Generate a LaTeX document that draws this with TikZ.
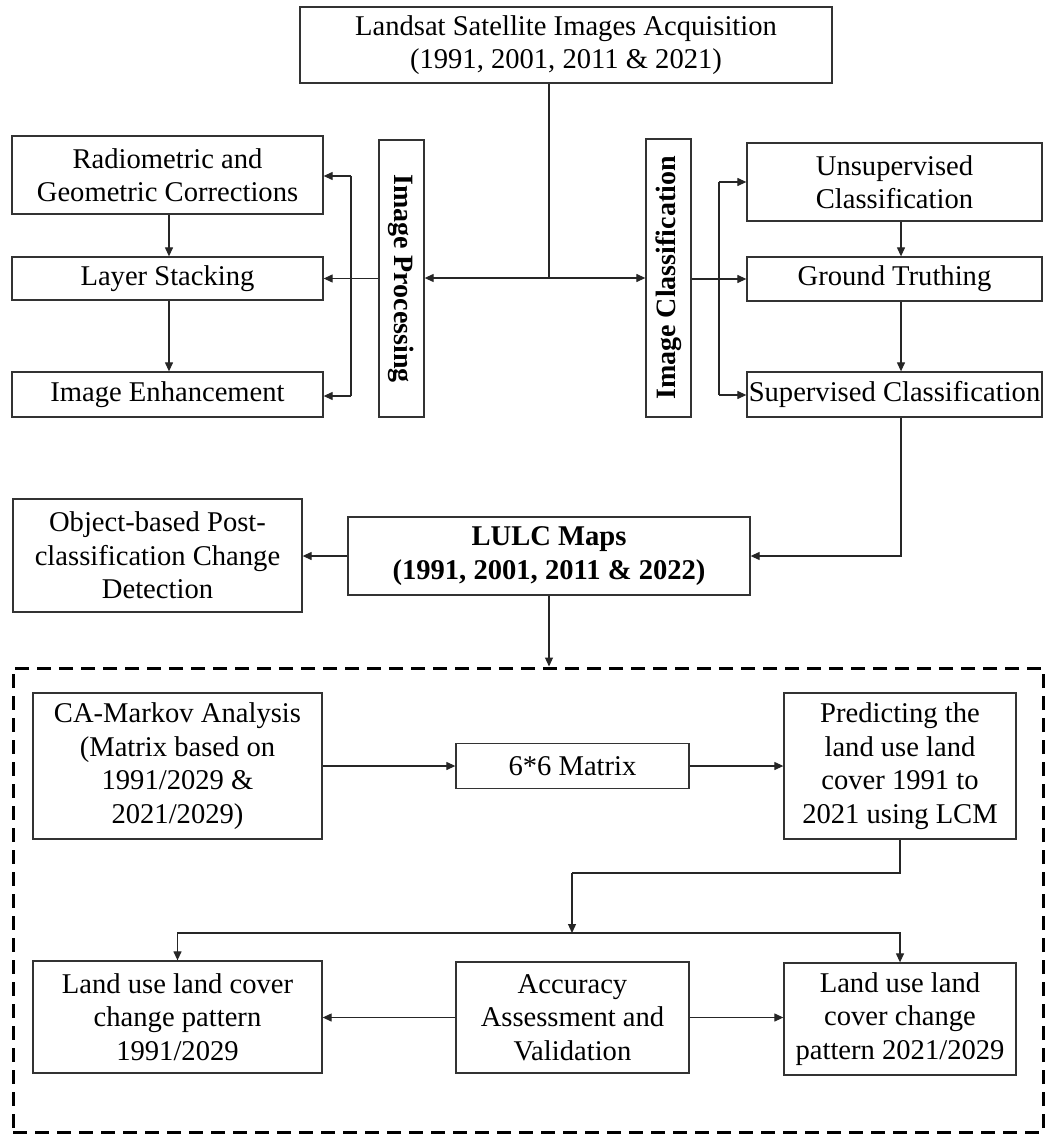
\documentclass[tikz,border=0pt]{standalone}
\usepackage{fontspec}
\setmainfont{Liberation Serif}
\usetikzlibrary{arrows.meta,calc}
\begin{document}
\begin{tikzpicture}[x=1pt,y=-1pt,
  box/.style={draw=black!80,line width=1.3pt,inner sep=0pt,align=center,
    font=\fontsize{28.6}{33.5}\selectfont},
  bbox/.style={box,font=\fontsize{28.6}{33.5}\selectfont\bfseries},
  vtext/.style={inner sep=0pt,font=\fontsize{28}{33.5}\selectfont\bfseries},
  conn/.style={draw=black!85,line width=1.2pt},
  arr/.style={conn,-{Triangle[length=9pt,width=8pt]}},
  frame/.style={draw=black,line width=3pt,dash pattern=on 14pt off 8pt,inner sep=0pt}
  ]
\useasboundingbox[fill=white] (0,0) rectangle (1046,1134);

% top part
\node[box,minimum width=532pt,minimum height=76pt] (top) at (566,45)
  {Landsat Satellite Images Acquisition\\(1991, 2001, 2011 \& 2021)};

\node[box,minimum width=311pt,minimum height=78pt] (rad) at (167.5,175)
  {Radiometric and\\Geometric Corrections};
\node[box,minimum width=311pt,minimum height=43pt] (layer) at (167.5,278.5)
  {Layer Stacking};
\node[box,minimum width=311pt,minimum height=45pt] (enh) at (167.5,394.5)
  {Image Enhancement};

\node[box,minimum width=45pt,minimum height=277pt] (IP) at (401.5,278.5) {};
\node[vtext,rotate=-90] (IPt) at (IP) {Image Processing};
\node[box,minimum width=45pt,minimum height=278pt] (IC) at (668.5,278) {};
\node[vtext,rotate=90] (ICt) at (IC) {Image Classification};

\node[box,minimum width=295pt,minimum height=78pt] (unsup) at (894.5,182)
  {Unsupervised\\Classification};
\node[box,minimum width=295pt,minimum height=44pt] (ground) at (894.5,279)
  {Ground Truthing};
\node[box,minimum width=295pt,minimum height=45pt] (sup) at (894.5,394.5)
  {Supervised Classification};

\node[box,minimum width=289pt,minimum height=113pt] (obj) at (157.5,555.5)
  {Object-based Post-\\classification Change\\Detection};
\node[bbox,minimum width=402pt,minimum height=78pt] (lulc) at (549,556)
  {LULC Maps\\(1991, 2001, 2011 \& 2022)};

% dashed frame
\node[frame,minimum width=1030pt,minimum height=464pt] (fr) at (528,900) {};

\node[box,minimum width=289pt,minimum height=146pt] (ca) at (177.5,766)
  {CA-Markov Analysis\\(Matrix based on\\1991/2029 \&\\2021/2029)};
\node[box,minimum width=233pt,minimum height=45pt] (mat) at (572.5,766)
  {6*6 Matrix};
\node[box,minimum width=232pt,minimum height=146pt] (pred) at (900,766)
  {Predicting the\\land use land\\cover 1991 to\\2021 using LCM};

\node[box,minimum width=289pt,minimum height=112pt] (lp1) at (177.5,1017)
  {Land use land cover\\change pattern\\1991/2029};
\node[box,minimum width=233pt,minimum height=111pt] (acc) at (572.5,1017.5)
  {Accuracy\\Assessment and\\Validation};
\node[box,minimum width=232pt,minimum height=112pt] (lp2) at (900,1019)
  {Land use land\\cover change\\pattern 2021/2029};

% connectors: top
\coordinate (j1) at (549,278);
\draw[conn] (top.south -| j1) -- (j1);
\draw[arr] (j1) -- (j1 -| IP.east);
\draw[arr] (j1) -- (j1 -| IC.west);

% left bracket
\coordinate (b1) at (351,176);
\coordinate (b2) at (351,396);
\draw[conn] (b1) -- (b2);
\draw[arr] (b1) -- (b1 -| rad.east);
\draw[arr] (b2) -- (b2 -| enh.east);
\draw[arr] (IP.west |- layer.east) -- (layer.east);
\coordinate (lx) at (169,0);
\draw[arr] (rad.south -| lx) -- (layer.north -| lx);
\draw[arr] (layer.south -| lx) -- (enh.north -| lx);

% right bracket
\coordinate (c1) at (719,182);
\coordinate (c2) at (719,395);
\draw[conn] (c1) -- (c2);
\draw[arr] (c1) -- (c1 -| unsup.west);
\draw[arr] (c2) -- (c2 -| sup.west);
\draw[arr] (IC.east |- ground.west) -- (ground.west);
\coordinate (sx) at (901,0);
\draw[arr] (unsup.south -| sx) -- (ground.north -| sx);
\draw[arr] (ground.south -| sx) -- (sup.north -| sx);

% to LULC
\draw[arr] (sup.south -| sx) |- (lulc.east);
\draw[arr] (lulc.west) -- (obj.east |- lulc.west);
\draw[arr] (lulc.south) -- (lulc.south |- fr.north);

% inside frame
\draw[arr] (ca.east) -- (mat.west);
\draw[arr] (mat.east) -- (pred.west);
\coordinate (k1) at (572,873);
\coordinate (k2) at (572,933);
\draw[conn] (pred.south) |- (k1);
\draw[arr] (k1) -- (k2);
\draw[arr] (k2) -| (lp1.north);
\draw[arr] (k2) -| (lp2.north);
\draw[arr] (acc.west) -- (acc.west -| lp1.east);
\draw[arr] (acc.east) -- (acc.east -| lp2.west);
\end{tikzpicture}
\end{document}
